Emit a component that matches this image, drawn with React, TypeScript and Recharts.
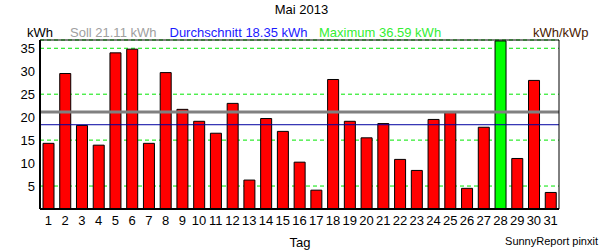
import * as React from 'react';
import {
	BarChart,
	Bar,
	Cell,
	XAxis,
	YAxis,
	CartesianGrid,
	ReferenceLine,
} from 'recharts';

// daily yield, May 2013 (kWh)
const days = [
	'1', '2', '3', '4', '5', '6', '7', '8', '9', '10', '11', '12', '13', '14', '15', '16',
	'17', '18', '19', '20', '21', '22', '23', '24', '25', '26', '27', '28', '29', '30', '31',
];
const yieldKwh = [
	14.3, 29.5, 18.2, 13.9, 34.0, 34.8, 14.3, 29.7, 21.7, 19.1, 16.5, 23.0, 6.3, 19.7, 16.9, 10.2,
	4.1, 28.2, 19.1, 15.5, 18.6, 10.8, 8.4, 19.5, 21.0, 4.5, 17.8, 36.59, 11.0, 28.0, 3.6,
];
const leftTicks = [5, 10, 15, 20, 25, 30, 35];
const rightTicks = [0.9, 1.8, 2.7, 3.6, 4.5, 5.4, 6.3];
const soll = 21.11;
const average = 18.35;
const maximum = 36.59;
const yMax = 36.8;
const kwhPerKwp = 0.18;

const data = days.map((d, i) => ({ day: d, kwh: yieldKwh[i] }));

const font = 'Liberation Sans, Arial, sans-serif';

export default function App() {
	return (
		<div style={{ position: 'absolute', left: 0, top: 0, width: 600, height: 250, background: '#fff', fontFamily: font }}>
			<BarChart
				width={600}
				height={250}
				data={data}
				margin={{ top: 40, right: 0, bottom: 0, left: 0 }}
				barSize={11}
			>
				<CartesianGrid
					yAxisId='left'
					vertical={false}
					stroke='#00e600'
					strokeDasharray='4 3'
				/>
				<XAxis
					dataKey='day'
					interval={0}
					height={41}
					tickLine={false}
					tickSize={0}
					tickMargin={7}
					axisLine={{ stroke: '#000', strokeWidth: 2 }}
					tick={{ fill: '#000', fontSize: 13, fontFamily: font }}
				/>
				<YAxis
					yAxisId='left'
					width={40}
					domain={[0, yMax]}
					ticks={leftTicks}
					tickLine={false}
					tickSize={0}
					tickMargin={5}
					axisLine={{ stroke: '#000', strokeWidth: 2 }}
					tick={{ fill: '#000', fontSize: 13, fontFamily: font }}
				/>
				<YAxis
					yAxisId='right'
					orientation='right'
					width={41}
					domain={[0, yMax * kwhPerKwp]}
					ticks={rightTicks}
					tickLine={false}
					tickSize={0}
					tickMargin={3}
					axisLine={{ stroke: '#000', strokeWidth: 1 }}
					tick={{ fill: '#000', fontSize: 13, fontFamily: font, textAnchor: 'start' }}
					tickFormatter={(v: number) => v.toFixed(1).replace('.', ',')}
				/>
				<Bar yAxisId='left' dataKey='kwh' stroke='#000' strokeWidth={1} isAnimationActive={false}>
					{data.map((d) => (
						<Cell key={d.day} fill={d.kwh === maximum ? '#00ff00' : '#ff0000'} />
					))}
				</Bar>
				<ReferenceLine yAxisId='left' y={yMax} stroke='#000' strokeWidth={1} />
				<ReferenceLine yAxisId='left' y={soll} stroke='#808080' strokeWidth={3} />
				<ReferenceLine yAxisId='left' y={average} stroke='#0000a0' strokeWidth={1} />
			</BarChart>
			<svg
				width={600}
				height={250}
				style={{ position: 'absolute', left: 0, top: 0, pointerEvents: 'none' }}
				fontFamily={font}
			>
				<text x={301.5} y={14} fontSize={13} textAnchor='middle' fill='#000'>
					Mai 2013
				</text>
				<text x={27} y={37} fontSize={13} fill='#000'>kWh</text>
				<text x={70} y={37} fontSize={13} fill='#a0a0a0'>
					Soll {soll.toFixed(2)} kWh
				</text>
				<text x={169.5} y={37} fontSize={13} fill='#1a1aff'>
					Durchschnitt {average.toFixed(2)} kWh
				</text>
				<text x={319} y={37} fontSize={13} fill='#33ee33'>
					Maximum {maximum.toFixed(2)} kWh
				</text>
				<text x={588.5} y={37} fontSize={13} fill='#4a2000' textAnchor='end'>
					kWh/kWp
				</text>
				<text x={300} y={247} fontSize={13} textAnchor='middle' fill='#000'>
					Tag
				</text>
				<text x={598} y={245} fontSize={11} textAnchor='end' fill='#000'>
					SunnyReport pinxit
				</text>
			</svg>
		</div>
	);
}
